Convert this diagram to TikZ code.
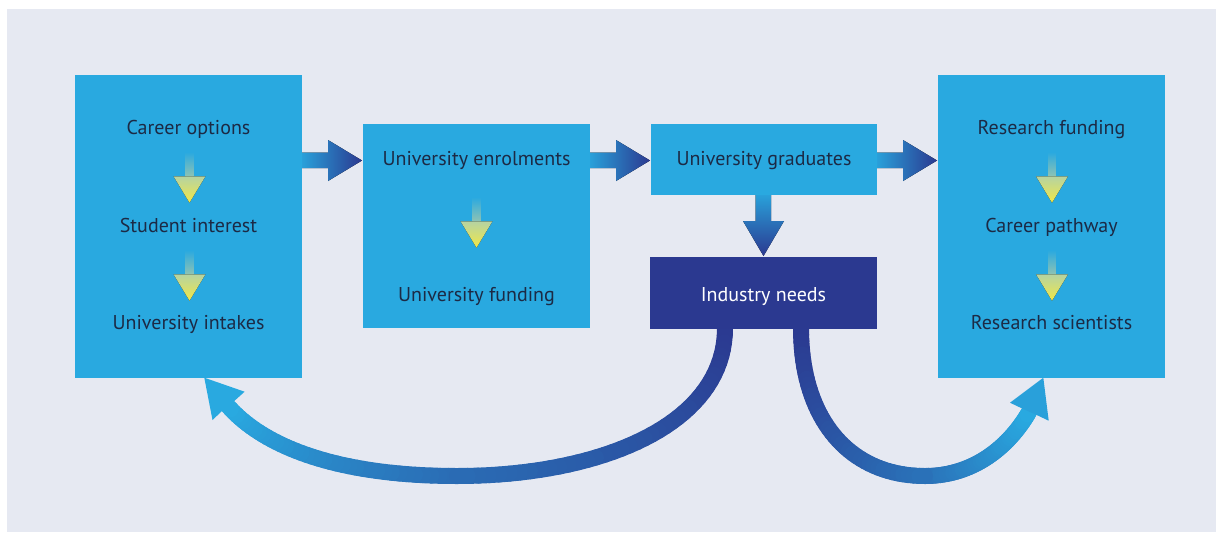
\documentclass[tikz,border=0pt]{standalone}
\usepackage{fontspec}
\setmainfont{PT Sans}
\usetikzlibrary{calc}

\definecolor{bgblue}{HTML}{E6E9F2}
\definecolor{boxblue}{HTML}{29A9E0}
\definecolor{navy}{HTML}{2B3990}
\definecolor{txtnavy}{HTML}{1C2A45}
\definecolor{sage}{HTML}{B5D3A2}
\definecolor{lemon}{HTML}{F1E847}
\definecolor{shaftgreen}{HTML}{8EC3B4}

\tikzset{
  box/.style={fill=boxblue, inner sep=0pt, outer sep=0pt},
  darkbox/.style={fill=navy, inner sep=0pt, outer sep=0pt},
  txtnode/.style={anchor=base, inner sep=0.75pt, text=txtnavy, font=\fontsize{15}{18}\selectfont},
  curveline/.style={line width=12pt, line cap=round},
}

\begin{document}
\begin{tikzpicture}[x=0.75pt,y=0.75pt,yscale=-1,xscale=1]
\useasboundingbox (0,0) rectangle (1223,533);

%Shape: Background
\fill[bgblue] (7,9) rectangle (1216,532);

%Curve end points
\coordinate (ls) at (725,328);
\coordinate (lm) at (457,476);
\coordinate (le) at (228,406);
\coordinate (rs) at (801,328);
\coordinate (rm) at (925,476);
\coordinate (re) at (1029,412);

%Shape: Return curves (points along them)
\foreach \k in {0,...,40}{
  \pgfmathsetmacro\t{\k/40}
  \path (ls) .. controls (725,425) and (600,476) .. (lm) coordinate[pos=\t] (la\k);
  \path (lm) .. controls (340,476) and (265,448) .. (le) coordinate[pos=\t] (lb\k);
  \path (rs) .. controls (801,420) and (850,476) .. (rm) coordinate[pos=\t] (ra\k);
  \path (rm) .. controls (975,476) and (1010,445) .. (re) coordinate[pos=\t] (rb\k);
}
\foreach \k [evaluate=\k as \n using int(\k+1)] in {0,...,39}{
  \pgfmathtruncatemacro\p{45*\k/39}
  \pgfmathtruncatemacro\q{45+55*\k/39}
  \pgfmathtruncatemacro\r{50*\k/39}
  \pgfmathtruncatemacro\s{50+50*\k/39}
  \draw[curveline, color=boxblue!\p!navy] (la\k) -- (la\n);
  \draw[curveline, color=boxblue!\q!navy] (lb\k) -- (lb\n);
  \draw[curveline, color=boxblue!\r!navy] (ra\k) -- (ra\n);
  \draw[curveline, color=boxblue!\s!navy] (rb\k) -- (rb\n);
}

%Shape: Boxes
\node[box, minimum width=170.25pt, minimum height=227.25pt] (lbox) at (188.5,226.5) {};
\node[box, minimum width=170.25pt, minimum height=153pt] (ebox) at (476.5,226) {};
\node[box, minimum width=169.5pt, minimum height=53.25pt] (gbox) at (764,159.5) {};
\node[darkbox, minimum width=170.25pt, minimum height=54pt] (ind) at (763.5,292.75) {};
\node[box, minimum width=170.25pt, minimum height=227.25pt] (rbox) at (1051.5,226.5) {};

%Shape: Arrow heads of the curves
\fill[boxblue] (204.3,377.7) -- (244.6,391.7) -- (234.6,400.7) -- (222,411) -- (212.5,420) -- cycle;
\fill[boxblue!92!navy] (1043.3,377.7) -- (1048.7,420.7) -- (1036.7,415) -- (1021.7,408.3) -- (1010,402.7) -- cycle;

%Shape: Arrows between boxes
\foreach \x in {302,590,877}{
  \fill[left color=boxblue!92!navy, right color=navy] (\x,152.7) -- (\x+26,152.7) -- (\x+26,140) -- (\x+60,160.5) -- (\x+26,181) -- (\x+26,168) -- (\x,168) -- cycle;
}
\fill[top color=boxblue!92!navy, bottom color=navy] (755.7,195) -- (771,195) -- (771,221) -- (784,221) -- (763.5,256) -- (743,221) -- (755.7,221) -- cycle;

%Shape: Small arrows inside boxes
\foreach \x/\y in {189.5/152, 189.5/250, 476.5/197, 1052/152, 1052/250}{
  \fill[top color=boxblue, bottom color=shaftgreen] (\x-3.8,\y) rectangle (\x+3.8,\y+24.3);
  \fill[top color=sage, bottom color=lemon] (\x-16,\y+24.3) -- (\x+16,\y+24.3) -- (\x,\y+50.7) -- cycle;
}

% Text Node
\node[txtnode] (t1) at (188.5,134.5) {Career options};
% Text Node
\node[txtnode] (t2) at (188.5,232.5) {Student interest};
% Text Node
\node[txtnode] (t3) at (188.5,329) {University intakes};
% Text Node
\node[txtnode] (t4) at (476.5,165) {University enrolments};
% Text Node
\node[txtnode] (t5) at (476.5,301) {University funding};
% Text Node
\node[txtnode] (t6) at (764,165) {University graduates};
% Text Node
\node[txtnode, text=white] (t7) at (763.5,301) {Industry needs};
% Text Node
\node[txtnode] (t8) at (1051.5,134.5) {Research funding};
% Text Node
\node[txtnode] (t9) at (1051.5,232.5) {Career pathway};
% Text Node
\node[txtnode] (t10) at (1051.5,329) {Research scientists};

\end{tikzpicture}
\end{document}
